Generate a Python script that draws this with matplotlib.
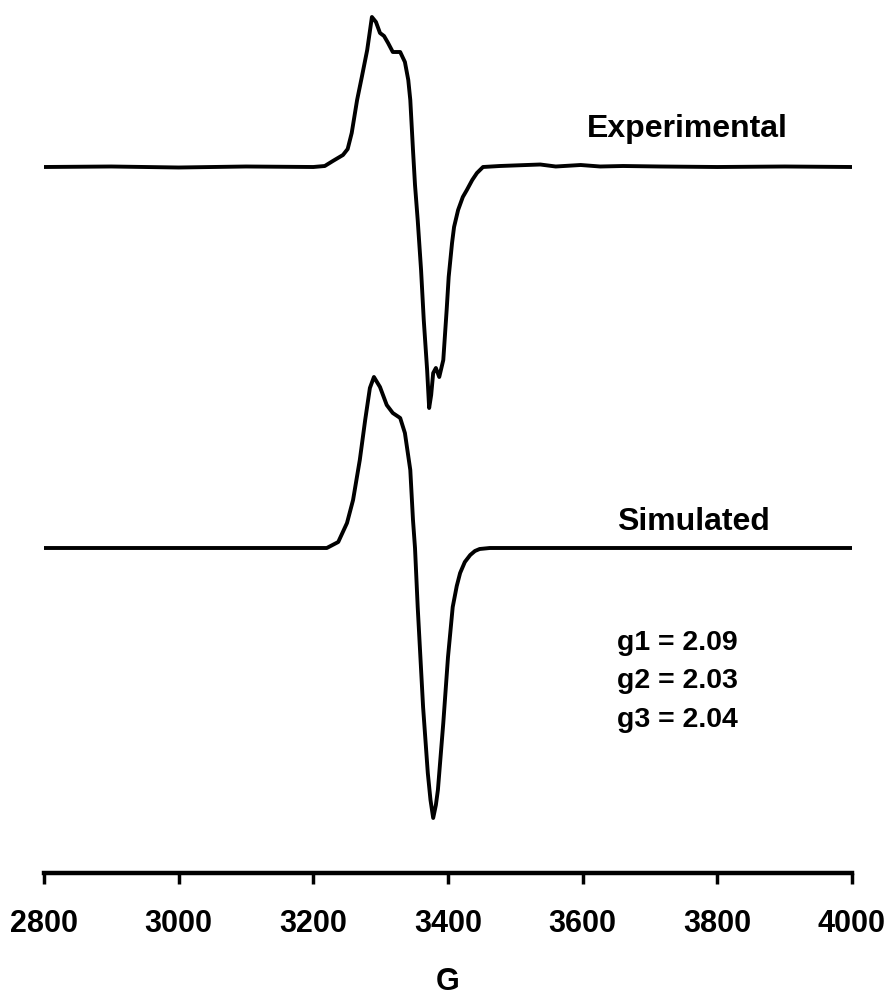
import matplotlib
matplotlib.use('Agg')
import matplotlib.pyplot as plt

# field (G) and intensity (arbitrary units)
exp_field = [2800, 2900, 3000, 3100, 3200, 3217, 3229, 3244, 3251, 3257, 3265, 3272, 3280, 3287,
             3293, 3299, 3305, 3311, 3318, 3329, 3336, 3341, 3344, 3348, 3351, 3355, 3360,
             3364, 3369, 3372, 3375, 3378, 3382, 3387, 3393, 3398, 3401, 3406, 3409, 3415,
             3422, 3428, 3436, 3443, 3452, 3477, 3537, 3560, 3597, 3626, 3660, 3715, 3800,
             3900, 4000]
exp_int = [0, 0.5, -0.5, 0.5, 0, 1, 6, 12, 18, 34, 67, 90, 117, 150,
           145, 134, 131, 124, 115, 115, 105, 87, 67, 17, -18, -53, -103,
           -153, -203, -241, -228, -206, -201, -210, -193, -143, -110, -76, -60, -43,
           -30, -23, -13, -6, 0, 1, 2.5, 0.5, 2, 0.5, 1, 0.5, 0,
           0.5, 0]

sim_field = [2800, 3220, 3237, 3250, 3259, 3269, 3277, 3284, 3290, 3299, 3309, 3318, 3329,
             3336, 3344, 3348, 3351, 3355, 3363, 3370, 3374, 3378, 3382, 3385, 3393, 3400,
             3407, 3413, 3418, 3425, 3433, 3440, 3447, 3462, 4000]
sim_int = [0, 0, 6, 25, 48, 88, 128, 160, 171, 161, 143, 135, 130,
           115, 78, 28, 0, -59, -159, -225, -252, -270, -257, -242, -175, -109,
           -59, -38, -25, -14, -7, -3, -1, 0, 0]

g_labels = ['g1 = 2.09', 'g2 = 2.03', 'g3 = 2.04']
x_ticks = [2800, 3000, 3200, 3400, 3600, 3800, 4000]

plt.rcParams['font.family'] = ['Liberation Sans', 'DejaVu Sans']
plt.rcParams['font.weight'] = 'bold'

fig = plt.figure(figsize=(8.91, 10), dpi=100)
ax = fig.add_axes([44 / 891, 0.127, 808 / 891, 0.873])

exp_offset = 706
sim_offset = 325
ax.plot(exp_field, [v + exp_offset for v in exp_int], color='black', lw=2.8,
        solid_joinstyle='round', solid_capstyle='butt')
ax.plot(sim_field, [v + sim_offset for v in sim_int], color='black', lw=2.8,
        solid_joinstyle='round', solid_capstyle='butt')

ax.text(3606, 736, 'Experimental', fontsize=23, fontweight='bold', va='baseline')
ax.text(3651, 343, 'Simulated', fontsize=23, fontweight='bold', va='baseline')
for i, lab in enumerate(g_labels):
    ax.text(3651, 223 - i * 38.5, lab, fontsize=20.5, fontweight='bold', va='baseline')

ax.set_xlim(2800, 4000)
ax.set_ylim(0, 873)
ax.set_xticks(x_ticks)
ax.set_xticklabels([str(t) for t in x_ticks], fontsize=22, fontweight='bold')
ax.tick_params(axis='x', direction='out', length=8, width=2.5, pad=18)
ax.set_yticks([])
for s in ['left', 'right', 'top']:
    ax.spines[s].set_visible(False)
ax.spines['bottom'].set_linewidth(3.2)
ax.spines['bottom'].set_capstyle('projecting')
ax.set_xlabel('G', fontsize=22, fontweight='bold', labelpad=20)

fig.savefig('out.png', dpi=100)
